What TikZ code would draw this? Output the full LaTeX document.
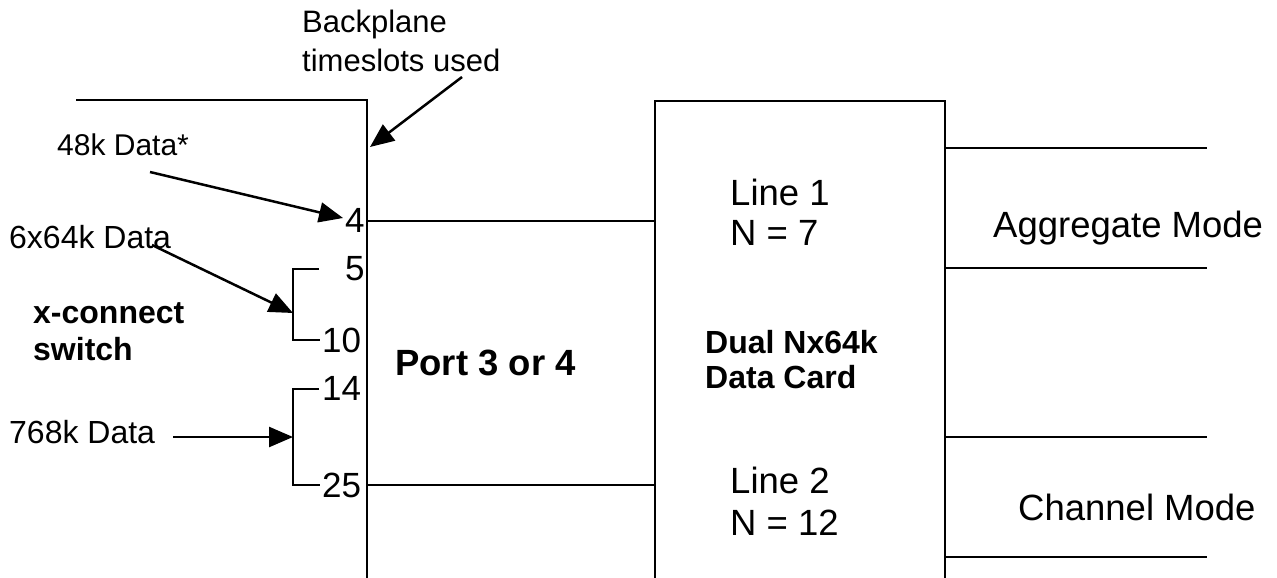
\documentclass[tikz,border=0pt]{standalone}
\usepackage{fontspec}
\setmainfont{Liberation Sans}
\usetikzlibrary{arrows.meta}
\begin{document}
\begin{tikzpicture}[x=1pt,y=-1pt,
  lbl/.style={inner sep=0pt,anchor=base west,font=\fontsize{31}{36}\selectfont},
  lblm/.style={inner sep=0pt,anchor=base west,font=\fontsize{32}{36}\selectfont},
  num/.style={inner sep=0pt,anchor=base west,font=\fontsize{35}{40}\selectfont},
  big/.style={inner sep=0pt,anchor=base west,font=\fontsize{36.5}{42}\selectfont},
  bld/.style={inner sep=0pt,anchor=base west,font=\fontsize{32}{36}\selectfont\bfseries},
  bldbig/.style={inner sep=0pt,anchor=base west,font=\fontsize{36.5}{42}\selectfont\bfseries},
  wire/.style={line width=2.5pt,line cap=rect},
  arr/.style={line width=2.5pt,-{Triangle[length=24pt,width=20pt]}}]
\useasboundingbox (0,0) rectangle (1277,578);

% port (left block)
\draw[wire] (77,100) -- (367,100) -- (367,578);
% data card (right block)
\draw[wire] (655,578) -- (655,101) -- (945,101) -- (945,578);

% labels
\node[lbl] (bp1) at (302,33) {Backplane};
\node[lbl] (bp2) at (302,72) {timeslots used};
\node[lbl,font=\fontsize{30}{34}\selectfont] (d48) at (57,155) {48k Data*};
\node[lblm] (d6) at (9,248) {6x64k Data};
\node[bld] (xc1) at (33,323) {x-connect};
\node[bld] (xc2) at (33,360) {switch};
\node[lblm] (d768) at (9,443) {768k Data};

\node[num] (n4) at (345,232) {4};
\node[num] (n5) at (345,280) {5};
\node[num] (n10) at (322,352) {10};
\node[num] (n14) at (322,400) {14};
\node[num] (n25) at (322,497) {25};

\node[bldbig] (port) at (395,375) {Port 3 or 4};
\node[big] (l1a) at (730,205) {Line 1};
\node[big] (l1b) at (730,245) {N = 7};
\node[bld] (dc1) at (705,353) {Dual Nx64k};
\node[bld] (dc2) at (705,388) {Data Card};
\node[big] (l2a) at (730,493) {Line 2};
\node[big] (l2b) at (730,535) {N = 12};
\node[big] (agg) at (993,237) {Aggregate Mode};
\node[big] (chm) at (1018,520) {Channel Mode};

% coordinates
\coordinate (bpS) at (462,77);
\coordinate (bpT) at (370,147);
\coordinate (a48S) at (150,172);
\coordinate (a48T) at (343,218);
\coordinate (a6S) at (152,245);
\coordinate (a6T) at (293,313);
\coordinate (a768S) at (173,437);
\coordinate (a768T) at (293,437);

% brackets
\coordinate (b1t) at (319,269);
\coordinate (b1b) at (320,340);
\coordinate (b2t) at (319,389);
\coordinate (b2b) at (320,485);
\draw[wire,line cap=butt] (b1t) -- (293,269) -- (293,340) -- (b1b);
\draw[wire,line cap=butt] (b2t) -- (293,389) -- (293,485) -- (b2b);

% arrows
\draw[arr] (bpS) -- (bpT);
\draw[arr] (a48S) -- (a48T);
\draw[arr] (a6S) -- (a6T);
\draw[arr] (a768S) -- (a768T);

% port-to-card lines
\coordinate (p1) at (367,221);
\coordinate (c1) at (655,221);
\coordinate (p2) at (367,485);
\coordinate (c2) at (655,485);
\draw[wire,line cap=butt] (p1) -- (c1);
\draw[wire,line cap=butt] (p2) -- (c2);

% right lines
\coordinate (r1a) at (945,148);
\coordinate (r1b) at (1207,148);
\coordinate (r2a) at (945,268);
\coordinate (r2b) at (1207,268);
\coordinate (r3a) at (945,437);
\coordinate (r3b) at (1207,437);
\coordinate (r4a) at (945,557);
\coordinate (r4b) at (1207,557);
\draw[wire,line cap=butt] (r1a) -- (r1b);
\draw[wire,line cap=butt] (r2a) -- (r2b);
\draw[wire,line cap=butt] (r3a) -- (r3b);
\draw[wire,line cap=butt] (r4a) -- (r4b);
\end{tikzpicture}
\end{document}
